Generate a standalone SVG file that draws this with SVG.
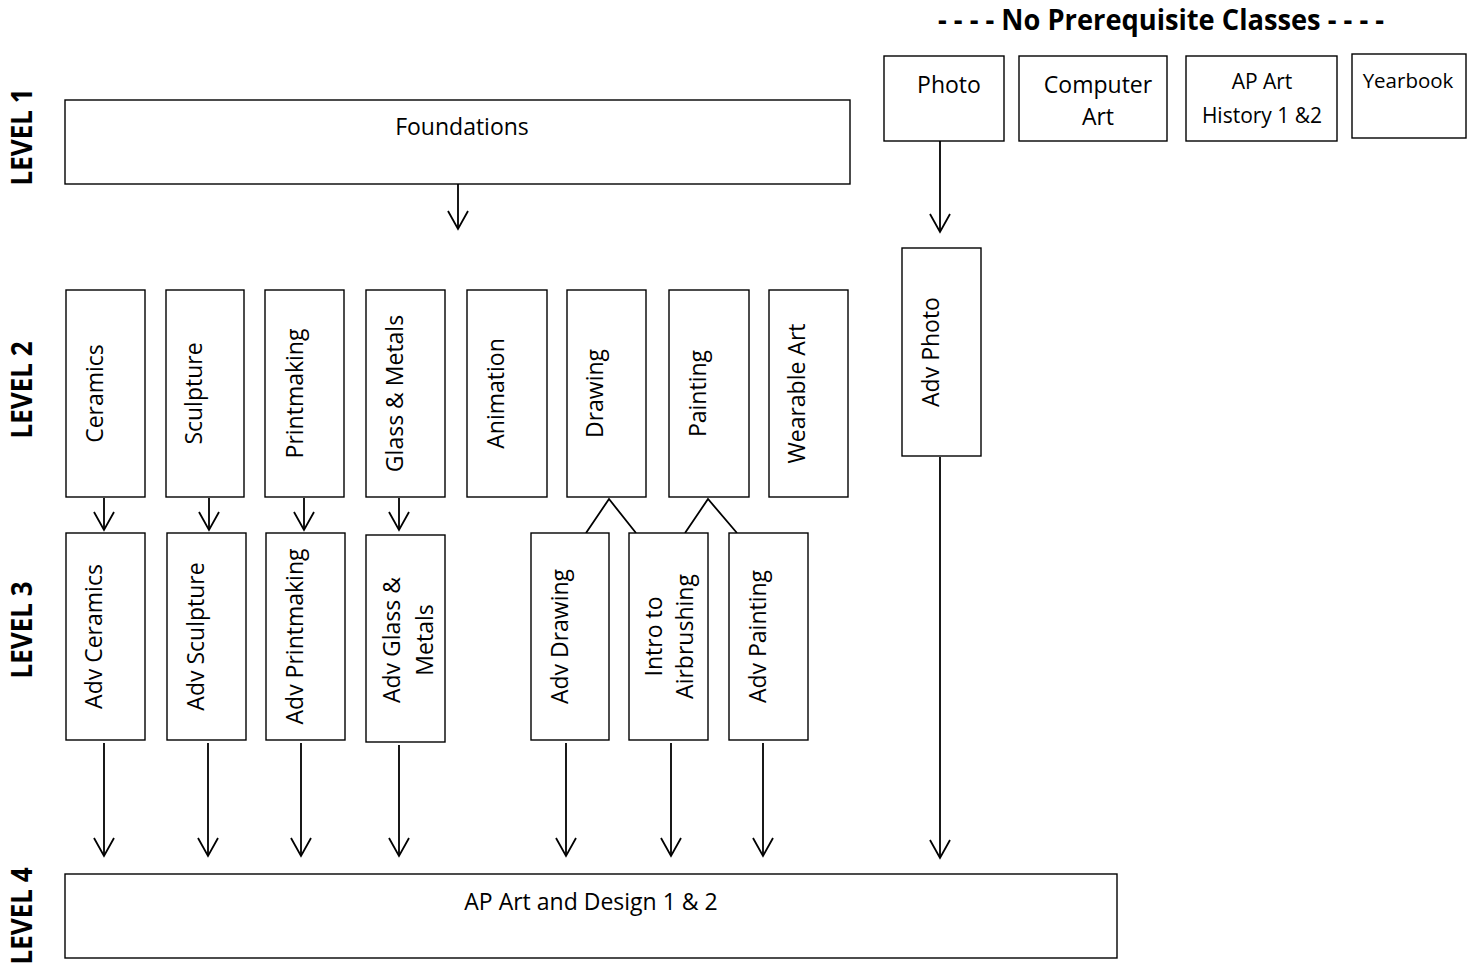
<svg xmlns="http://www.w3.org/2000/svg" width="1478" height="967" viewBox="0 0 1478 967">
<style>
.box{fill:#fff;stroke:#000;stroke-width:1.4}
.t{font-family:"Open Sans","Liberation Sans",sans-serif;font-size:23px;fill:#000;text-anchor:middle}
.lv{font-family:"Open Sans","Liberation Sans",sans-serif;font-size:29px;font-weight:bold;fill:#000;text-anchor:middle}
.c{fill:none;stroke:#000;stroke-width:1.8}
</style>
<defs>
<marker id="ah" markerUnits="userSpaceOnUse" markerWidth="40" markerHeight="40" refX="0" refY="0" orient="auto" overflow="visible">
<path d="M-18,-10 L0,0 L-18,10" fill="none" stroke="#000" stroke-width="1.8"/>
</marker>
</defs>
<rect width="1478" height="967" fill="#fff"/>

<text class="lv" x="1161" y="30" style="font-size:28px" textLength="446" lengthAdjust="spacingAndGlyphs">- - - - No Prerequisite Classes - - - -</text>

<g id="levels">
<text class="lv" transform="translate(32,137) rotate(-90)" textLength="97" lengthAdjust="spacingAndGlyphs">LEVEL 1</text>
<text class="lv" transform="translate(32,390) rotate(-90)" textLength="97" lengthAdjust="spacingAndGlyphs">LEVEL 2</text>
<text class="lv" transform="translate(32,630) rotate(-90)" textLength="97" lengthAdjust="spacingAndGlyphs">LEVEL 3</text>
<text class="lv" transform="translate(32,916) rotate(-90)" textLength="97" lengthAdjust="spacingAndGlyphs">LEVEL 4</text>
</g>

<g id="connectors">
<line class="c" x1="458" y1="184" x2="458" y2="229" marker-end="url(#ah)"/>
<line class="c" x1="940" y1="141" x2="940" y2="232" marker-end="url(#ah)"/>
<line class="c" x1="104" y1="498" x2="104" y2="530" marker-end="url(#ah)"/>
<line class="c" x1="209" y1="498" x2="209" y2="530" marker-end="url(#ah)"/>
<line class="c" x1="304" y1="498" x2="304" y2="530" marker-end="url(#ah)"/>
<line class="c" x1="399" y1="498" x2="399" y2="530" marker-end="url(#ah)"/>
<polyline class="c" points="586,533 609,499 636,533"/>
<polyline class="c" points="685,533 708,499 737,533"/>
<line class="c" x1="104" y1="743" x2="104" y2="856" marker-end="url(#ah)"/>
<line class="c" x1="208" y1="743" x2="208" y2="856" marker-end="url(#ah)"/>
<line class="c" x1="301" y1="743" x2="301" y2="856" marker-end="url(#ah)"/>
<line class="c" x1="399" y1="745" x2="399" y2="856" marker-end="url(#ah)"/>
<line class="c" x1="566" y1="743" x2="566" y2="856" marker-end="url(#ah)"/>
<line class="c" x1="671" y1="743" x2="671" y2="856" marker-end="url(#ah)"/>
<line class="c" x1="763" y1="743" x2="763" y2="856" marker-end="url(#ah)"/>
<line class="c" x1="940" y1="457" x2="940" y2="858" marker-end="url(#ah)"/>
</g>

<g id="photo"><rect class="box" x="884" y="56" width="120" height="85"/><text class="t" x="949" y="93">Photo</text></g>
<g id="computer-art"><rect class="box" x="1019" y="56" width="148" height="85"/><text class="t" x="1098" y="93">Computer</text><text class="t" x="1098" y="125">Art</text></g>
<g id="ap-art-history"><rect class="box" x="1186" y="56" width="151" height="85"/><text class="t" x="1262" y="89" style="font-size:21px">AP Art</text><text class="t" x="1262" y="123" style="font-size:21px">History 1 &amp;2</text></g>
<g id="yearbook"><rect class="box" x="1352" y="54" width="114" height="84"/><text class="t" x="1408" y="88" style="font-size:20.5px">Yearbook</text></g>

<g id="foundations"><rect class="box" x="65" y="100" width="785" height="84"/><text class="t" x="462" y="135">Foundations</text></g>

<g id="ceramics"><rect class="box" x="66" y="290" width="79" height="207"/><text class="t" transform="translate(103,393.5) rotate(-90)">Ceramics</text></g>
<g id="sculpture"><rect class="box" x="166" y="290" width="78" height="207"/><text class="t" transform="translate(202,393.5) rotate(-90)">Sculpture</text></g>
<g id="printmaking"><rect class="box" x="265" y="290" width="79" height="207"/><text class="t" transform="translate(303,393.5) rotate(-90)">Printmaking</text></g>
<g id="glass-metals"><rect class="box" x="366" y="290" width="79" height="207"/><text class="t" transform="translate(403,393.5) rotate(-90)">Glass &amp; Metals</text></g>
<g id="animation"><rect class="box" x="467" y="290" width="80" height="207"/><text class="t" transform="translate(504,393.5) rotate(-90)">Animation</text></g>
<g id="drawing"><rect class="box" x="567" y="290" width="79" height="207"/><text class="t" transform="translate(603,393.5) rotate(-90)">Drawing</text></g>
<g id="painting"><rect class="box" x="669" y="290" width="80" height="207"/><text class="t" transform="translate(706,393.5) rotate(-90)">Painting</text></g>
<g id="wearable-art"><rect class="box" x="769" y="290" width="79" height="207"/><text class="t" transform="translate(805,393.5) rotate(-90)">Wearable Art</text></g>

<g id="adv-photo"><rect class="box" x="902" y="248" width="79" height="208"/><text class="t" transform="translate(939,352) rotate(-90)">Adv Photo</text></g>

<g id="adv-ceramics"><rect class="box" x="66" y="533" width="79" height="207"/><text class="t" transform="translate(102,636.5) rotate(-90)">Adv Ceramics</text></g>
<g id="adv-sculpture"><rect class="box" x="167" y="533" width="79" height="207"/><text class="t" transform="translate(204,636.5) rotate(-90)">Adv Sculpture</text></g>
<g id="adv-printmaking"><rect class="box" x="266" y="533" width="79" height="207"/><text class="t" transform="translate(303,636.5) rotate(-90)">Adv Printmaking</text></g>
<g id="adv-glass-metals"><rect class="box" x="366" y="535" width="79" height="207"/><text class="t" transform="translate(400,640) rotate(-90)">Adv Glass &amp;</text><text class="t" transform="translate(433,640) rotate(-90)">Metals</text></g>
<g id="adv-drawing"><rect class="box" x="531" y="533" width="78" height="207"/><text class="t" transform="translate(568,636.5) rotate(-90)">Adv Drawing</text></g>
<g id="intro-airbrushing"><rect class="box" x="629" y="533" width="79" height="207"/><text class="t" transform="translate(662,636.5) rotate(-90)">Intro to</text><text class="t" transform="translate(693,636.5) rotate(-90)">Airbrushing</text></g>
<g id="adv-painting"><rect class="box" x="729" y="533" width="79" height="207"/><text class="t" transform="translate(766,636.5) rotate(-90)">Adv Painting</text></g>

<g id="ap-art-design"><rect class="box" x="65" y="874" width="1052" height="84"/><text class="t" x="591" y="910">AP Art and Design 1 &amp; 2</text></g>
</svg>
